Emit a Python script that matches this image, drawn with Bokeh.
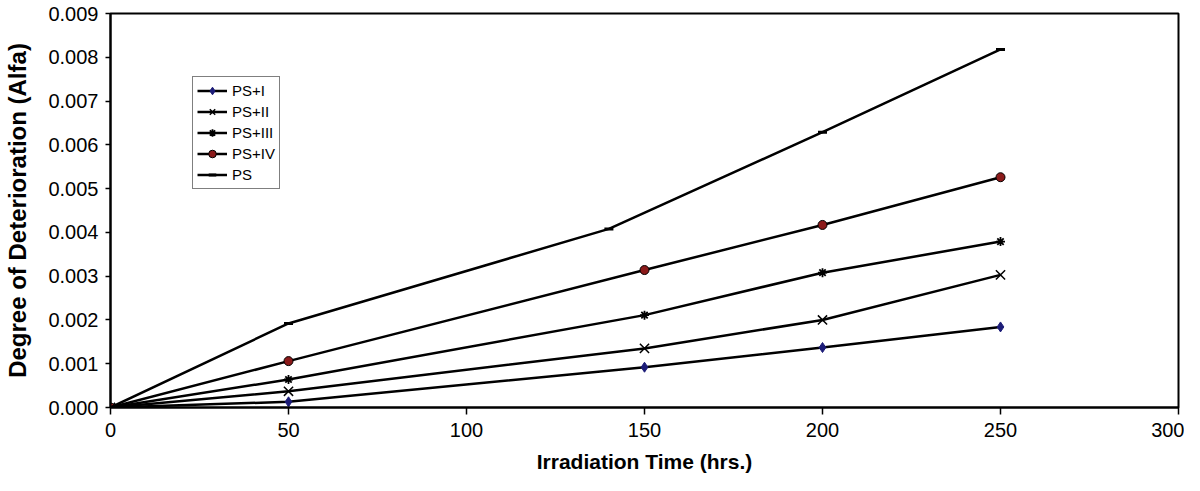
from bokeh.plotting import figure
from bokeh.embed import file_html
from bokeh.resources import INLINE
from bokeh.models import Range1d, FixedTicker, NumeralTickFormatter, Legend

# ---- data ----
hours = [0, 50, 150, 200, 250]
ps_hours = [0, 50, 140, 200, 250]
ps_i = [0.0, 0.00013, 0.00092, 0.00137, 0.00184]
ps_ii = [0.0, 0.00037, 0.00135, 0.00200, 0.00303]
ps_iii = [0.0, 0.00064, 0.00211, 0.00308, 0.00379]
ps_iv = [0.0, 0.00106, 0.00314, 0.00417, 0.00526]
ps = [0.0, 0.00192, 0.00408, 0.00629, 0.00818]
x_ticks = [0, 50, 100, 150, 200, 250, 300]
y_ticks = [0.000, 0.001, 0.002, 0.003, 0.004, 0.005, 0.006, 0.007, 0.008, 0.009]

FONT = "Liberation Sans"

p = figure(width=1184, height=475, output_backend="svg", toolbar_location=None,
           x_range=Range1d(0, 300), y_range=Range1d(0, 0.009),
           min_border_left=110, min_border_right=6, min_border_top=13,
           min_border_bottom=68)

p.xgrid.visible = False
p.ygrid.visible = False
p.outline_line_color = "black"
p.outline_line_width = 2
p.background_fill_color = "white"
p.border_fill_color = "white"

p.xaxis.ticker = FixedTicker(ticks=x_ticks)
p.yaxis.ticker = FixedTicker(ticks=y_ticks)
p.yaxis.formatter = NumeralTickFormatter(format="0.000")

for ax in (p.xaxis[0], p.yaxis[0]):
    ax.axis_line_color = "black"
    ax.axis_line_width = 2
    ax.major_tick_line_color = "black"
    ax.major_tick_line_width = 1.5
    ax.major_tick_in = 0
    ax.minor_tick_line_color = None
    ax.major_label_text_font = FONT
    ax.major_label_text_font_size = "20px"
    ax.major_label_text_color = "black"
    ax.axis_label_text_font = FONT
    ax.axis_label_text_font_style = "bold"
    ax.axis_label_text_color = "black"

p.xaxis.major_tick_out = 7
p.yaxis.major_tick_out = 5
p.xaxis.major_label_standoff = 8
p.yaxis.major_label_standoff = 7
p.xaxis.axis_label = "Irradiation Time (hrs.)"
p.yaxis.axis_label = "Degree of Deterioration (Alfa)"
p.xaxis.axis_label_text_font_size = "21px"
p.yaxis.axis_label_text_font_size = "24px"
p.xaxis.axis_label_standoff = 10
p.yaxis.axis_label_standoff = 14

items = []

r1 = p.line(hours, ps_i, line_color="black", line_width=2.5)
m1 = p.scatter(hours, ps_i, marker="diamond", size=10, fill_color="#1c1c78",
               line_color="#1c1c78")
items.append(("PS+I", [r1, m1]))

r2 = p.line(hours, ps_ii, line_color="black", line_width=2.5)
m2 = p.scatter(hours, ps_ii, marker="x", size=13, line_color="black",
               line_width=1.5)
items.append(("PS+II", [r2, m2]))

r3 = p.line(hours, ps_iii, line_color="black", line_width=2.5)
m3 = p.scatter(hours, ps_iii, marker="asterisk", size=9, line_color="black",
               line_width=1.8)
items.append(("PS+III", [r3, m3]))

r4 = p.line(hours, ps_iv, line_color="black", line_width=2.5)
m4 = p.scatter(hours, ps_iv, marker="circle", size=9, fill_color="#8b1a1a",
               line_color="black", line_width=1)
items.append(("PS+IV", [r4, m4]))

r5 = p.line(ps_hours, ps, line_color="black", line_width=2.5)
m5 = p.scatter(ps_hours, ps, marker="dash", size=9, line_color="black",
               line_width=3)
items.append(("PS", [r5, m5]))

legend = Legend(items=items, location=(82, 218))
legend.label_text_font = FONT
legend.label_text_font_size = "15px"
legend.label_text_color = "black"
legend.glyph_width = 30
legend.glyph_height = 19
legend.label_height = 19
legend.label_standoff = 5
legend.spacing = 2
legend.padding = 4
legend.margin = 0
legend.border_line_color = "black"
legend.border_line_width = 1
legend.background_fill_color = "white"
legend.background_fill_alpha = 1
p.add_layout(legend, "center")

open("out.html", "w").write(file_html(p, INLINE))
